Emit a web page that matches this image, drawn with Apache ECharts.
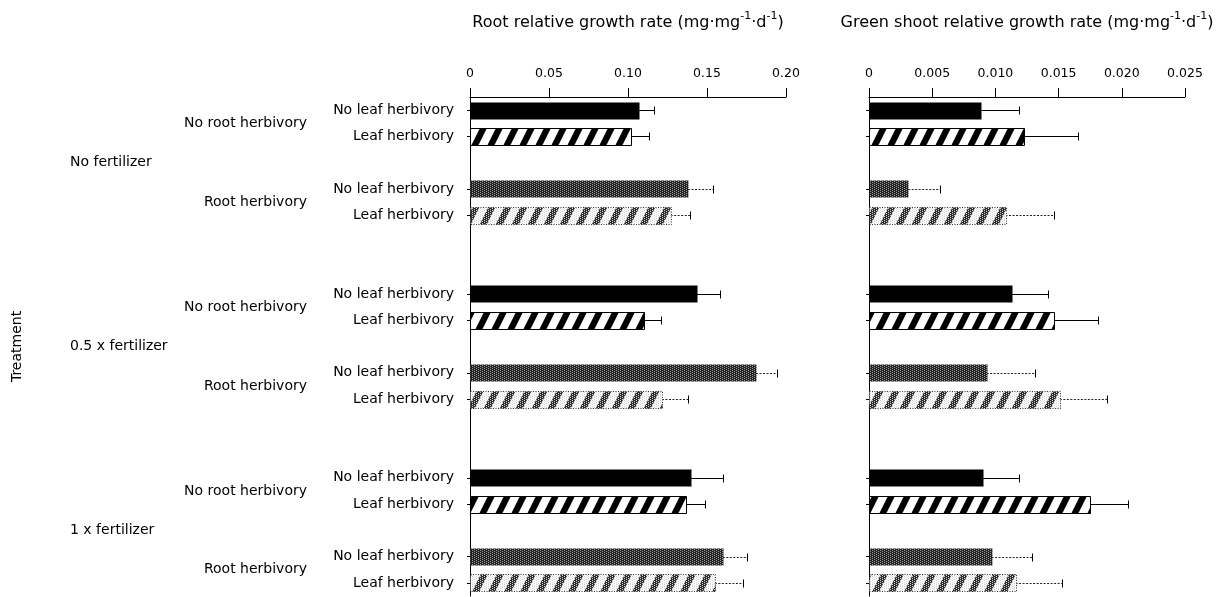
<!DOCTYPE html>
<html><head><meta charset="utf-8">
<script src="https://cdn.jsdelivr.net/npm/echarts@6/dist/echarts.min.js"></script>
<style>html,body{margin:0;padding:0;background:#fff}#c{width:1231px;height:597px}</style>
</head><body><div id="c"></div>
<script>
// ---- data ----
const fertilizers = ['No fertilizer', '0.5 x fertilizer', '1 x fertilizer'];
const rootLevels = ['No root herbivory', 'Root herbivory'];
const leafLevels = ['No leaf herbivory', 'Leaf herbivory'];
// order: fertilizer -> root level -> leaf level
const rootMean  = [0.107, 0.102, 0.138, 0.127, 0.1435, 0.110, 0.181, 0.1215, 0.140, 0.137, 0.160, 0.155];
const rootErr   = [0.0096, 0.011, 0.016, 0.012, 0.0145, 0.011, 0.013, 0.0165, 0.020, 0.012, 0.015, 0.018];
const shootMean = [0.0089, 0.0123, 0.0031, 0.0108, 0.0113, 0.0146, 0.0093, 0.0151, 0.0090, 0.0175, 0.0097, 0.0116];
const shootErr  = [0.0030, 0.0042, 0.0025, 0.0038, 0.0029, 0.0035, 0.0038, 0.0037, 0.0029, 0.0030, 0.0032, 0.0037];
const rootTicks  = ['0', '0.05', '0.10', '0.15', '0.20'];
const shootTicks = ['0', '0.005', '0.010', '0.015', '0.020', '0.025'];
const rootTitle  = ['Root relative growth rate (mg·mg', '-1', '·d', '-1', ')'];
const shootTitle = ['Green shoot relative growth rate (mg·mg', '-1', '·d', '-1', ')'];
const yTitle = 'Treatment';

// ---- build category slots ----
const cats = [], barSlot = [], barKind = [], rootGroups = [], fertGroups = [];
fertilizers.forEach((f, fi) => {
  const fStart = cats.length;
  rootLevels.forEach((r, ri) => {
    const rStart = cats.length;
    leafLevels.forEach((l, li) => { barSlot.push(cats.length); barKind.push(ri * 2 + li); cats.push(l); });
    rootGroups.push([0, rStart, cats.length - 1, 0, ri]);
    if (ri < rootLevels.length - 1) cats.push('');
  });
  fertGroups.push([0, fStart, cats.length - 1, 1, fi]);
  if (fi < fertilizers.length - 1) { cats.push(''); cats.push(''); }
});

const FONT = '"DejaVu Sans", "Liberation Sans", sans-serif';

// ---- fill patterns ----
function stripeTile(color, dotted) {
  const c = document.createElement('canvas'); c.width = 16; c.height = 32;
  const g = c.getContext('2d');
  g.fillStyle = '#fff'; g.fillRect(0, 0, 16, 32);
  g.fillStyle = color;
  for (let k = -2; k <= 2; k++) {
    const a = k * 16;
    g.beginPath(); g.moveTo(a, 32); g.lineTo(a + 7, 32); g.lineTo(a + 23, 0); g.lineTo(a + 16, 0); g.closePath(); g.fill();
  }
  if (dotted) {
    g.fillStyle = '#d0d0d0';
    for (let y = 0; y < 32; y++) for (let x = 0; x < 16; x++) if ((x + 2 * y) % 4 === 0) g.fillRect(x, y, 1, 1);
  }
  return c;
}
function stippleTile() {
  const c = document.createElement('canvas'); c.width = 4; c.height = 4;
  const g = c.getContext('2d');
  g.fillStyle = '#222'; g.fillRect(0, 0, 4, 4);
  g.fillStyle = '#a0a0a0';
  for (let y = 0; y < 4; y++) for (let x = 0; x < 4; x++) if ((x + 2 * y) % 4 === 0) g.fillRect(x, y, 1, 1);
  return c;
}
const fills = [
  '#000',
  { image: stripeTile('#000', false), repeat: 'repeat' },
  { image: stippleTile(), repeat: 'repeat' },
  { image: stripeTile('#2e2e2e', true), repeat: 'repeat' }
];
const strokes = [null, { stroke: '#000', dash: null }, null, { stroke: '#333', dash: [1, 1.5] }];

function renderBar(params, api) {
  const v = api.value(0), idx = api.value(1), e = api.value(2), kind = api.value(3);
  const p0 = api.coord([0, idx]), p1 = api.coord([v, idx]), p2 = api.coord([v + e, idx]);
  const h = 17;
  const yc = Math.round(p0[1]) + 0.5;
  const grey = kind >= 2;
  const lineStyle = { stroke: grey ? '#222' : '#000', lineWidth: 1, lineDash: grey ? [2, 1.5] : null };
  const children = [
    { type: 'line', shape: { x1: p1[0], y1: yc, x2: Math.round(p2[0]) + 0.5, y2: yc }, style: lineStyle },
    { type: 'line', shape: { x1: Math.round(p2[0]) + 0.5, y1: yc - 4, x2: Math.round(p2[0]) + 0.5, y2: yc + 4 }, style: { stroke: '#000', lineWidth: 1 } }
  ];
  const st = strokes[kind];
  const rect = { x: Math.round(p0[0]) + 0.5, y: Math.round(p0[1] - h / 2) + 0.5, width: Math.round(p1[0] - p0[0]), height: h };
  children.push({
    type: 'rect', shape: rect,
    style: st ? { fill: fills[kind], stroke: st.stroke, lineWidth: 1, lineDash: st.dash } : { fill: fills[kind] }
  });
  return { type: 'group', children };
}

function renderLabel(params, api) {
  const a = api.coord([0, api.value(1)]), b = api.coord([0, api.value(2)]);
  const level = api.value(3), ti = api.value(4);
  const y = (a[1] + b[1]) / 2;
  const isRoot = level === 0;
  return {
    type: 'text',
    x: isRoot ? a[0] - 163 : a[0] - 400,
    y: y,
    style: {
      text: isRoot ? rootLevels[ti] : fertilizers[ti],
      fill: '#000', font: '14px ' + FONT,
      align: isRoot ? 'right' : 'left', verticalAlign: 'middle',
      textAlign: isRoot ? 'right' : 'left', textVerticalAlign: 'middle'
    }
  };
}

function richTitle(parts) {
  return parts.map((p, i) => (i % 2 === 1 ? '{s|' : '{t|') + p + '}').join('');
}
const titleStyle = {
  rich: {
    t: { fontSize: 16, fontFamily: FONT, color: '#000', verticalAlign: 'bottom' },
    s: { fontSize: 11, fontFamily: FONT, color: '#000', verticalAlign: 'bottom', padding: [0, 0, 9, 0] }
  }
};

function xAxisCfg(gi, max, interval, ticks, title) {
  return {
    gridIndex: gi, type: 'value', position: 'top', min: 0, max: max, interval: interval,
    axisLine: { show: true, lineStyle: { color: '#000', width: 1 } },
    axisTick: { show: true, length: 9, lineStyle: { color: '#000', width: 1 } },
    axisLabel: {
      fontSize: 12.5, fontFamily: FONT, color: '#000', margin: 17,
      formatter: v => ticks[Math.round(v / interval)]
    },
    splitLine: { show: false },
    name: richTitle(title), nameLocation: 'middle', nameGap: 66, nameTextStyle: titleStyle
  };
}
function yAxisCfg(gi, showLabels) {
  return {
    gridIndex: gi, type: 'category', data: cats, inverse: true,
    axisLine: { show: true, lineStyle: { color: '#000', width: 1 } },
    axisTick: { show: true, length: 3, alignWithLabel: true, interval: (i, v) => v !== '', lineStyle: { color: '#000' } },
    axisLabel: { show: showLabels, interval: 0, margin: 16, fontSize: 14, fontFamily: FONT, color: '#000' },
    splitLine: { show: false },
    name: showLabels ? yTitle : '', nameLocation: 'middle', nameGap: 446, nameRotate: 90,
    nameTextStyle: { fontSize: 14, fontFamily: FONT, color: '#000' }
  };
}

const chart = echarts.init(document.getElementById('c'), null, { renderer: 'canvas' });
chart.setOption({
  animation: false,
  backgroundColor: '#fff',
  grid: [
    { left: 470, top: 97, width: 316, height: 499 },
    { left: 869, top: 97, width: 316, height: 499 }
  ],
  xAxis: [
    xAxisCfg(0, 0.20, 0.05, rootTicks, rootTitle),
    xAxisCfg(1, 0.025, 0.005, shootTicks, shootTitle)
  ],
  yAxis: [yAxisCfg(0, true), yAxisCfg(1, false)],
  series: [
    {
      type: 'custom', xAxisIndex: 0, yAxisIndex: 0, renderItem: renderBar,
      encode: { x: 0, y: 1 },
      data: barSlot.map((s, i) => [rootMean[i], s, rootErr[i], barKind[i]])
    },
    {
      type: 'custom', xAxisIndex: 1, yAxisIndex: 1, renderItem: renderBar,
      encode: { x: 0, y: 1 },
      data: barSlot.map((s, i) => [shootMean[i], s, shootErr[i], barKind[i]])
    },
    {
      type: 'custom', xAxisIndex: 0, yAxisIndex: 0, renderItem: renderLabel,
      encode: { x: 0, y: 1 }, clip: false,
      data: rootGroups.concat(fertGroups)
    }
  ]
});
</script>
</body></html>
